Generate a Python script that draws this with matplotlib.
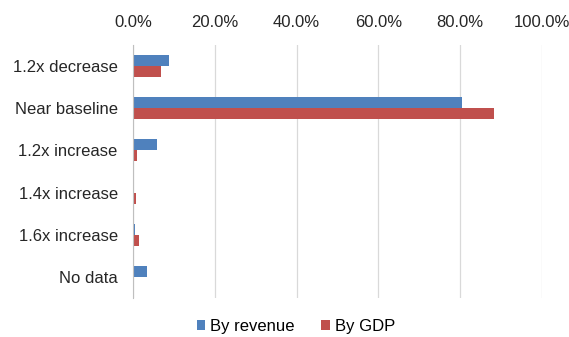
import matplotlib
matplotlib.use('Agg')
import matplotlib.pyplot as plt
import numpy as np
from matplotlib.ticker import PercentFormatter

plt.rcParams['font.family'] = ['Liberation Sans', 'DejaVu Sans']

categories = ['1.2x decrease', 'Near baseline', '1.2x increase',
              '1.4x increase', '1.6x increase', 'No data']
by_revenue = [8.9, 80.4, 5.9, 0.0, 0.4, 3.4]
by_gdp = [6.9, 88.3, 1.1, 0.7, 1.5, 0.0]

fig = plt.figure(figsize=(5.69, 3.37), dpi=100)
ax = fig.add_axes([0.2337, 0.1157, 0.7189, 0.7508])

y = np.arange(len(categories))
h = 0.26
ax.barh(y - h / 2, by_revenue, height=h, color='#4F81BD', label='By revenue', zorder=3)
ax.barh(y + h / 2, by_gdp, height=h, color='#C0504D', label='By GDP', zorder=3)

ax.set_xlim(0, 100)
ax.set_ylim(len(categories) - 0.5, -0.5)
ax.set_yticks(y)
ax.set_yticklabels(categories)
ax.set_xticks(np.arange(0, 101, 20))
ax.xaxis.set_major_formatter(PercentFormatter(decimals=1))
ax.xaxis.tick_top()
ax.tick_params(axis='both', length=0, labelsize=12, colors='#262626')
ax.tick_params(axis='y', pad=11)
ax.tick_params(axis='x', pad=11)
ax.grid(axis='x', color='#D9D9D9', linewidth=0.9, zorder=0)
for s in ['top', 'right', 'bottom']:
    ax.spines[s].set_visible(False)
ax.spines['left'].set_color('#BFBFBF')
ax.spines['left'].set_zorder(4)

fig.legend(loc='lower center', bbox_to_anchor=(0.52, -0.035), ncol=2, frameon=False,
           fontsize=12, handlelength=0.5, handleheight=0.5, handletextpad=0.3,
           columnspacing=1.6)

fig.savefig('out.png', dpi=100)
